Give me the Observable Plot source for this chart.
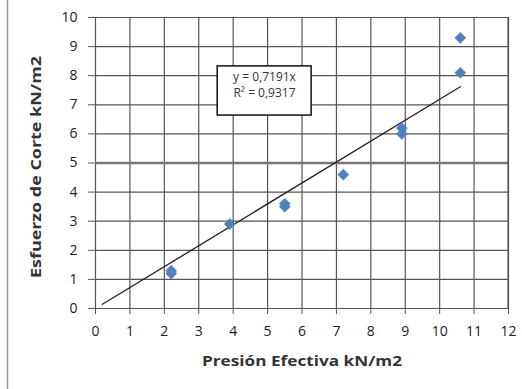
<!DOCTYPE html>
<html>
<head>
<meta charset="utf-8">
<script src="https://cdn.jsdelivr.net/npm/d3@7"></script>
<script src="https://cdn.jsdelivr.net/npm/@observablehq/plot@0.6"></script>
<style>
  html, body { margin: 0; padding: 0; background: #fff; }
  #chart { position: relative; width: 522px; height: 389px; }
  #chart svg { display: block; }
</style>
</head>
<body>
<div id="chart"></div>
<script>
// Data
const presion = [2.2, 2.2, 3.9, 5.5, 5.5, 7.2, 8.9, 8.9, 10.6, 10.6];
const esfuerzo = [1.2, 1.3, 2.9, 3.5, 3.6, 4.6, 6.0, 6.2, 8.1, 9.3];
const xTicks = [0, 1, 2, 3, 4, 5, 6, 7, 8, 9, 10, 11, 12];
const yTicks = [0, 1, 2, 3, 4, 5, 6, 7, 8, 9, 10];
const slope = 0.7191;
const r2 = 0.9317;
const trendX = [0.2, 10.6];
const xLabel = "Presión Efectiva kN/m2";
const yLabel = "Esfuerzo de Corte kN/m2";
const eqLines = ["y = 0,7191x", "R² = 0,9317"];

const points = presion.map((x, i) => ({x, y: esfuerzo[i]}));
const trend = trendX.map(x => ({x, y: slope * x}));

const font = "'Open Sans', 'Liberation Sans', sans-serif";

const plot = Plot.plot({
  width: 522,
  height: 389,
  marginLeft: 95,
  marginRight: 14,
  marginTop: 17,
  marginBottom: 81,
  style: {fontFamily: font, fontSize: "13px", color: "#222", background: "#fff"},
  x: {domain: [0, 12], label: null},
  y: {domain: [0, 10], label: null},
  marks: [
    Plot.ruleX(xTicks, {stroke: "#555", strokeWidth: 1.2}),
    Plot.ruleY(yTicks.filter(d => d !== 5), {stroke: "#555", strokeWidth: 1.2}),
    Plot.ruleY([5], {stroke: "#777", strokeWidth: 2.5}),
    Plot.axisX({ticks: xTicks, tickSize: 6, tickPadding: 12, stroke: "#555", fill: "#222", fontSize: 14, label: null}),
    Plot.axisY({ticks: yTicks, tickSize: 7, tickPadding: 11, stroke: "#555", fill: "#222", fontSize: 14, label: null}),
    Plot.line(trend, {x: "x", y: "y", stroke: "#222", strokeWidth: 1.3}),
    Plot.dot(points, {x: "x", y: "y", symbol: "diamond2", r: 5, fill: "#4f81bd", stroke: "#4f81bd", strokeOpacity: 0.5, strokeWidth: 1}),
    Plot.rect([{x1: 3.55, x2: 6.28, y1: 6.63, y2: 8.32}], {x1: "x1", x2: "x2", y1: "y1", y2: "y2", fill: "#fff", stroke: "#111", strokeWidth: 1.5}),
    Plot.text([eqLines[0]], {x: 4.91, y: 7.95, text: d => d, fontSize: 12, fill: "#333"}),
    Plot.text([eqLines[1]], {x: 4.91, y: 7.4, text: d => d, fontSize: 12, fill: "#333"}),
    Plot.text([xLabel], {frameAnchor: "bottom", dx: 0, dy: 57, textAnchor: "middle", text: d => d, fontSize: 15, fontWeight: "bold", fill: "#333", className: "xlab"}),
    Plot.text([yLabel], {frameAnchor: "left", dx: -59, dy: 4, textAnchor: "middle", rotate: -90, text: d => d, fontSize: 15, fontWeight: "bold", fill: "#333", className: "ylab"})
  ]
});

const svg = d3.select(plot);
// stretch axis titles to the reference's measured lengths
svg.selectAll(".xlab text").attr("textLength", 200).attr("lengthAdjust", "spacingAndGlyphs");
svg.selectAll(".ylab text").attr("textLength", 222).attr("lengthAdjust", "spacingAndGlyphs");
// outer chart area left border and plot right edge
svg.append("line").attr("x1", 7.5).attr("x2", 7.5).attr("y1", 0).attr("y2", 389)
  .attr("stroke", "#999").attr("stroke-width", 1.5);
svg.append("line").attr("x1", 508).attr("x2", 508).attr("y1", 17).attr("y2", 308)
  .attr("stroke", "#555").attr("stroke-width", 1.2);

document.getElementById("chart").appendChild(plot);
</script>
</body>
</html>
